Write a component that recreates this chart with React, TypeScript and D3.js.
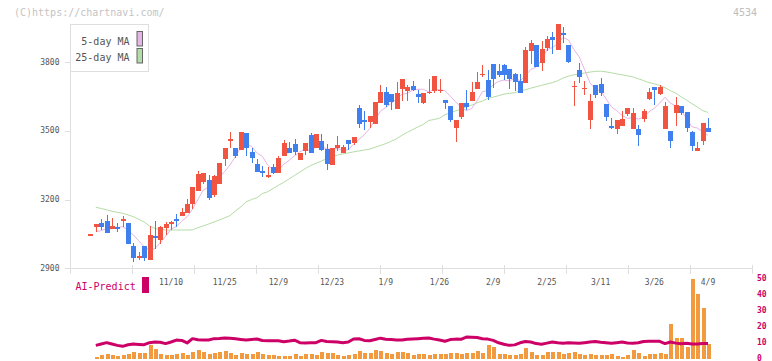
import React from 'react';
import * as d3 from 'd3';

// ---- data ----
const opens = [3046,3082,3098,3106,3071,3082,3108,3097,2999,2946,2997,2936,3041,3023,3077,3093,3115,3128,3140,3180,3237,3278,3285,3220,3268,3377,3457,3425,3416,3489,3407,3356,3324,3300,3342,3317,3390,3423,3442,3372,3413,3481,3425,3455,3420,3350,3425,3403,3459,3446,3600,3548,3539,3531,3621,3669,3660,3596,3682,3673,3695,3660,3621,3667,3673,3676,3634,3608,3512,3560,3621,3630,3682,3745,3721,3791,3760,3788,3769,3747,3717,3708,3848,3874,3795,3861,3909,3852,3926,3874,3693,3765,3684,3548,3699,3704,3616,3520,3507,3522,3573,3507,3507,3551,3638,3691,3660,3507,3499,3577,3608,3582,3494,3411,3455,3512];
const highs = [3048,3093,3115,3132,3121,3099,3129,3097,3009,2972,2997,3084,3108,3084,3100,3106,3135,3163,3204,3256,3323,3316,3307,3307,3359,3425,3494,3425,3496,3489,3425,3375,3346,3340,3355,3390,3460,3449,3464,3403,3446,3491,3486,3486,3442,3425,3477,3438,3459,3472,3612,3586,3564,3625,3699,3691,3660,3712,3725,3699,3717,3677,3664,3725,3739,3725,3634,3608,3547,3621,3678,3712,3756,3787,3765,3791,3791,3790,3769,3752,3747,3865,3896,3874,3891,3913,3931,3965,3952,3874,3718,3795,3717,3660,3699,3730,3616,3555,3547,3586,3599,3599,3525,3595,3686,3691,3699,3625,3499,3647,3608,3582,3499,3451,3534,3555];
const lows = [3046,3060,3067,3055,3071,3060,3079,3007,2929,2936,2933,2936,2984,3006,3045,3067,3082,3128,3140,3159,3237,3268,3198,3212,3268,3348,3423,3383,3416,3391,3358,3321,3300,3292,3310,3317,3390,3401,3394,3372,3394,3403,3425,3411,3330,3350,3411,3403,3416,3438,3513,3505,3513,3531,3621,3603,3590,3596,3630,3630,3673,3621,3616,3660,3664,3664,3595,3538,3451,3551,3590,3630,3682,3734,3634,3686,3734,3723,3682,3673,3664,3708,3791,3778,3760,3848,3835,3852,3883,3795,3608,3708,3656,3507,3643,3651,3544,3507,3486,3522,3564,3507,3435,3538,3634,3612,3656,3507,3425,3520,3568,3494,3411,3411,3438,3494];
const closes = [3048,3093,3080,3055,3084,3073,3116,3007,2946,2955,2946,3045,3034,3079,3093,3102,3106,3145,3180,3256,3311,3316,3207,3302,3359,3425,3464,3391,3496,3426,3383,3321,3317,3307,3317,3382,3448,3401,3407,3403,3446,3403,3486,3417,3355,3425,3438,3429,3442,3472,3531,3539,3564,3625,3669,3612,3625,3664,3725,3691,3678,3647,3664,3670,3739,3679,3621,3547,3547,3621,3603,3669,3712,3748,3647,3725,3743,3744,3726,3712,3664,3852,3883,3778,3856,3900,3896,3965,3920,3800,3697,3734,3688,3630,3656,3664,3561,3512,3547,3551,3599,3577,3481,3586,3669,3678,3691,3608,3455,3612,3577,3512,3433,3425,3534,3494];

const ma5Head = [null, 3060, 3064, 3074];
const ma25 = [null,3166,3161,3155,3149,3144,3140,3133,3125,3114,3102,3085,3074,3069,3067,3067,3067,3067,3067,3068,3077,3085,3093,3102,3111,3120,3130,3150,3168,3190,3200,3208,3226,3234,3248,3262,3275,3290,3305,3320,3335,3348,3358,3368,3378,3386,3394,3399,3403,3408,3412,3416,3420,3428,3436,3444,3454,3465,3480,3493,3505,3517,3528,3545,3549,3555,3570,3578,3587,3593,3605,3612,3622,3630,3641,3647,3653,3660,3663,3666,3673,3679,3686,3692,3698,3704,3710,3718,3730,3738,3744,3748,3752,3756,3759,3760,3757,3753,3748,3744,3740,3735,3727,3719,3710,3705,3698,3688,3675,3664,3648,3634,3618,3604,3588,3580];

const predictBars = [null,0.8,2.1,2.5,1.7,1.25,1.9,2.5,3.75,3.1,3.1,8.1,5.4,2.5,1.9,1.9,2.8,3.1,1.9,3.75,5.0,3.75,2.5,3.1,3.75,4.4,3.1,1.9,3.1,2.5,2.5,3.75,2.5,1.9,1.9,1.25,1.25,1.25,2.5,1.25,2.5,2.5,1.9,3.75,3.1,3.1,1.9,1.25,1.9,2.5,4.4,3.1,3.1,5.0,4.4,3.1,2.5,3.75,3.75,3.1,1.9,2.5,2.5,1.9,2.5,2.5,2.5,3.1,3.1,2.5,3.1,3.1,4.4,3.1,8.1,6.9,2.5,2.5,1.9,1.9,2.5,6.25,3.75,1.9,1.9,3.75,3.75,3.75,2.5,3.1,3.75,2.5,1.9,2.5,1.9,1.9,1.9,2.5,1.25,0.6,1.9,5.0,3.1,1.25,2.5,2.5,3.1,2.5,21.25,12.5,12.5,7.1,49.4,40,31.25,8.75];
const predictLine = [null,7.9,8.75,9.6,8.75,7.9,7.3,8.3,8.75,8.5,8.3,9.6,10.0,9.8,9.0,10.0,11.2,11.0,9.4,12.1,11.4,11.25,11.25,12.1,12.2,12.5,12.4,12.0,11.6,11.25,11.6,11.9,10.9,10.8,10.8,10.8,10.2,10.6,11.1,9.6,9.4,9.6,9.6,11.0,10.3,10.2,10.0,9.6,10.0,11.9,12.0,11.0,10.8,11.6,12.4,11.7,11.5,11.3,11.25,11.7,11.9,12.1,12.3,12.5,11.8,11.2,10.5,11.5,11.8,11.7,13.1,13.0,12.8,12.0,11.8,11.0,9.5,8.6,7.9,8.2,9.5,10.3,10.0,9.0,8.6,9.3,10.0,9.5,9.2,9.6,9.4,9.2,9.6,10.0,10.3,9.9,9.6,9.2,9.6,10.0,9.4,9.2,9.5,10.3,10.4,10.4,10.4,9.0,10.0,9.3,8.9,9.2,8.75,8.75,9.1,9.0];

const dateTickIndex = [15,25,35,45,55,65,75,85,95,105,115];
const dateTickLabels = ['11/10','11/25','12/9','12/23','1/9','1/26','2/9','2/25','3/11','3/26','4/9'];
const priceTicks = [2900,3200,3500,3800];
const predictTicks = [0,10,20,30,40,50];

const RED = '#f25442';
const BLUE = '#4080ee';
const PINK = '#e6b4e6';
const GREEN = '#b4dca6';
const MAGENTA = '#cc0066';
const ORANGE = '#f19a40';
const MONO = '"DejaVu Sans Mono", "Liberation Mono", monospace';

export default function App() {
  const W = 772, H = 361;
  const n = closes.length;
  const x = d3.scaleLinear().domain([0, n - 1]).range([90.45, 708]);
  const y = d3.scaleLinear().domain([2900, 3800]).range([268.3, 62]);
  const yb = d3.scaleLinear().domain([0, 50]).range([358, 278]);

  const ma5 = closes.map((c, i) => (i < 4 ? ma5Head[i] : d3.mean(closes.slice(i - 4, i + 1)) as number));

  const lineP = d3.line<number | null>()
    .defined((d) => d != null)
    .x((_, i) => x(i))
    .y((d) => y(d as number));
  const lineB = d3.line<number | null>()
    .defined((d) => d != null)
    .x((_, i) => x(i))
    .y((d) => yb(d as number));

  const gridX = d3.range(12).map((k) => 70 + k * 62);

  return (
    <svg width={W} height={H} style={{ position: 'absolute', left: 0, top: 0, background: '#fff' }} fontFamily={MONO}>
      <rect x={0} y={0} width={W} height={H} fill="#fff" />
      {/* header texts */}
      <text x={14} y={12.5} fontSize={10} fill="#c4c4c4" dominantBaseline="central">(C)https://chartnavi.com/</text>
      <text x={757} y={12.5} fontSize={10} fill="#bdbdbd" textAnchor="end" dominantBaseline="central">4534</text>

      {/* axes */}
      <g stroke="#dedede" strokeWidth={1} shapeRendering="crispEdges">
        <line x1={70.5} y1={24} x2={70.5} y2={269} />
        <line x1={70} y1={268.5} x2={753} y2={268.5} />
        {gridX.map((gx) => (
          <line key={gx} x1={gx + 0.5} y1={265} x2={gx + 0.5} y2={274} />
        ))}
        {priceTicks.map((v) => (
          <line key={v} x1={65} y1={Math.round(y(v)) + 0.5} x2={70} y2={Math.round(y(v)) + 0.5} />
        ))}
      </g>
      {priceTicks.map((v) => (
        <text key={v} x={59.5} y={y(v)} fontSize={8} fill="#555" textAnchor="end" dominantBaseline="central">{v}</text>
      ))}
      {dateTickIndex.map((idx, k) => (
        <text key={idx} x={x(idx)} y={282.5} fontSize={8} fill="#555" textAnchor="middle" dominantBaseline="central">{dateTickLabels[k]}</text>
      ))}

      {/* moving averages */}
      <path d={lineP(ma25) || ''} fill="none" stroke={GREEN} strokeWidth={1} />
      <path d={lineP(ma5) || ''} fill="none" stroke={PINK} strokeWidth={1} />

      {/* candles */}
      <g shapeRendering="crispEdges">
        {closes.map((c, i) => {
          const o = opens[i];
          const up = c >= o;
          const col = up ? RED : BLUE;
          const cx = Math.round(x(i));
          const top = y(Math.max(o, c));
          const bot = y(Math.min(o, c));
          const h = Math.max(1.5, bot - top);
          return (
            <g key={i}>
              <line x1={cx + 0.5} x2={cx + 0.5} y1={y(highs[i])} y2={y(lows[i])} stroke={col} strokeWidth={1} />
              <rect x={cx - 2} y={top} width={5} height={h} fill={col} />
            </g>
          );
        })}
      </g>

      {/* legend */}
      <rect x={70.5} y={24.5} width={78} height={47} fill="#fff" stroke="#dedede" />
      <text x={129.5} y={41} fontSize={10} fill="#555" textAnchor="end" dominantBaseline="central">5-day MA</text>
      <text x={129.5} y={57} fontSize={10} fill="#555" textAnchor="end" dominantBaseline="central">25-day MA</text>
      <rect x={137} y={31.5} width={5.5} height={14.5} fill={PINK} stroke="#666" />
      <rect x={137} y={48.5} width={5.5} height={14.5} fill={GREEN} stroke="#666" />

      {/* AI predict panel */}
      <text x={75.5} y={286} fontSize={10} fill={MAGENTA} dominantBaseline="central">AI-Predict</text>
      <rect x={142} y={277} width={7} height={16} fill={MAGENTA} />
      <g shapeRendering="crispEdges">
        {predictBars.map((v, i) =>
          v == null ? null : (
            <rect key={i} x={Math.round(x(i)) - 1.5} y={yb(v)} width={4} height={359 - yb(v)} fill={ORANGE} />
          )
        )}
      </g>
      <path d={lineB(predictLine) || ''} fill="none" stroke={MAGENTA} strokeWidth={3} strokeLinejoin="round" />
      {predictTicks.map((v) => (
        <text key={v} x={757} y={yb(v)} fontSize={8} fontWeight="bold" fill={MAGENTA} dominantBaseline="central">{v}</text>
      ))}
    </svg>
  );
}
